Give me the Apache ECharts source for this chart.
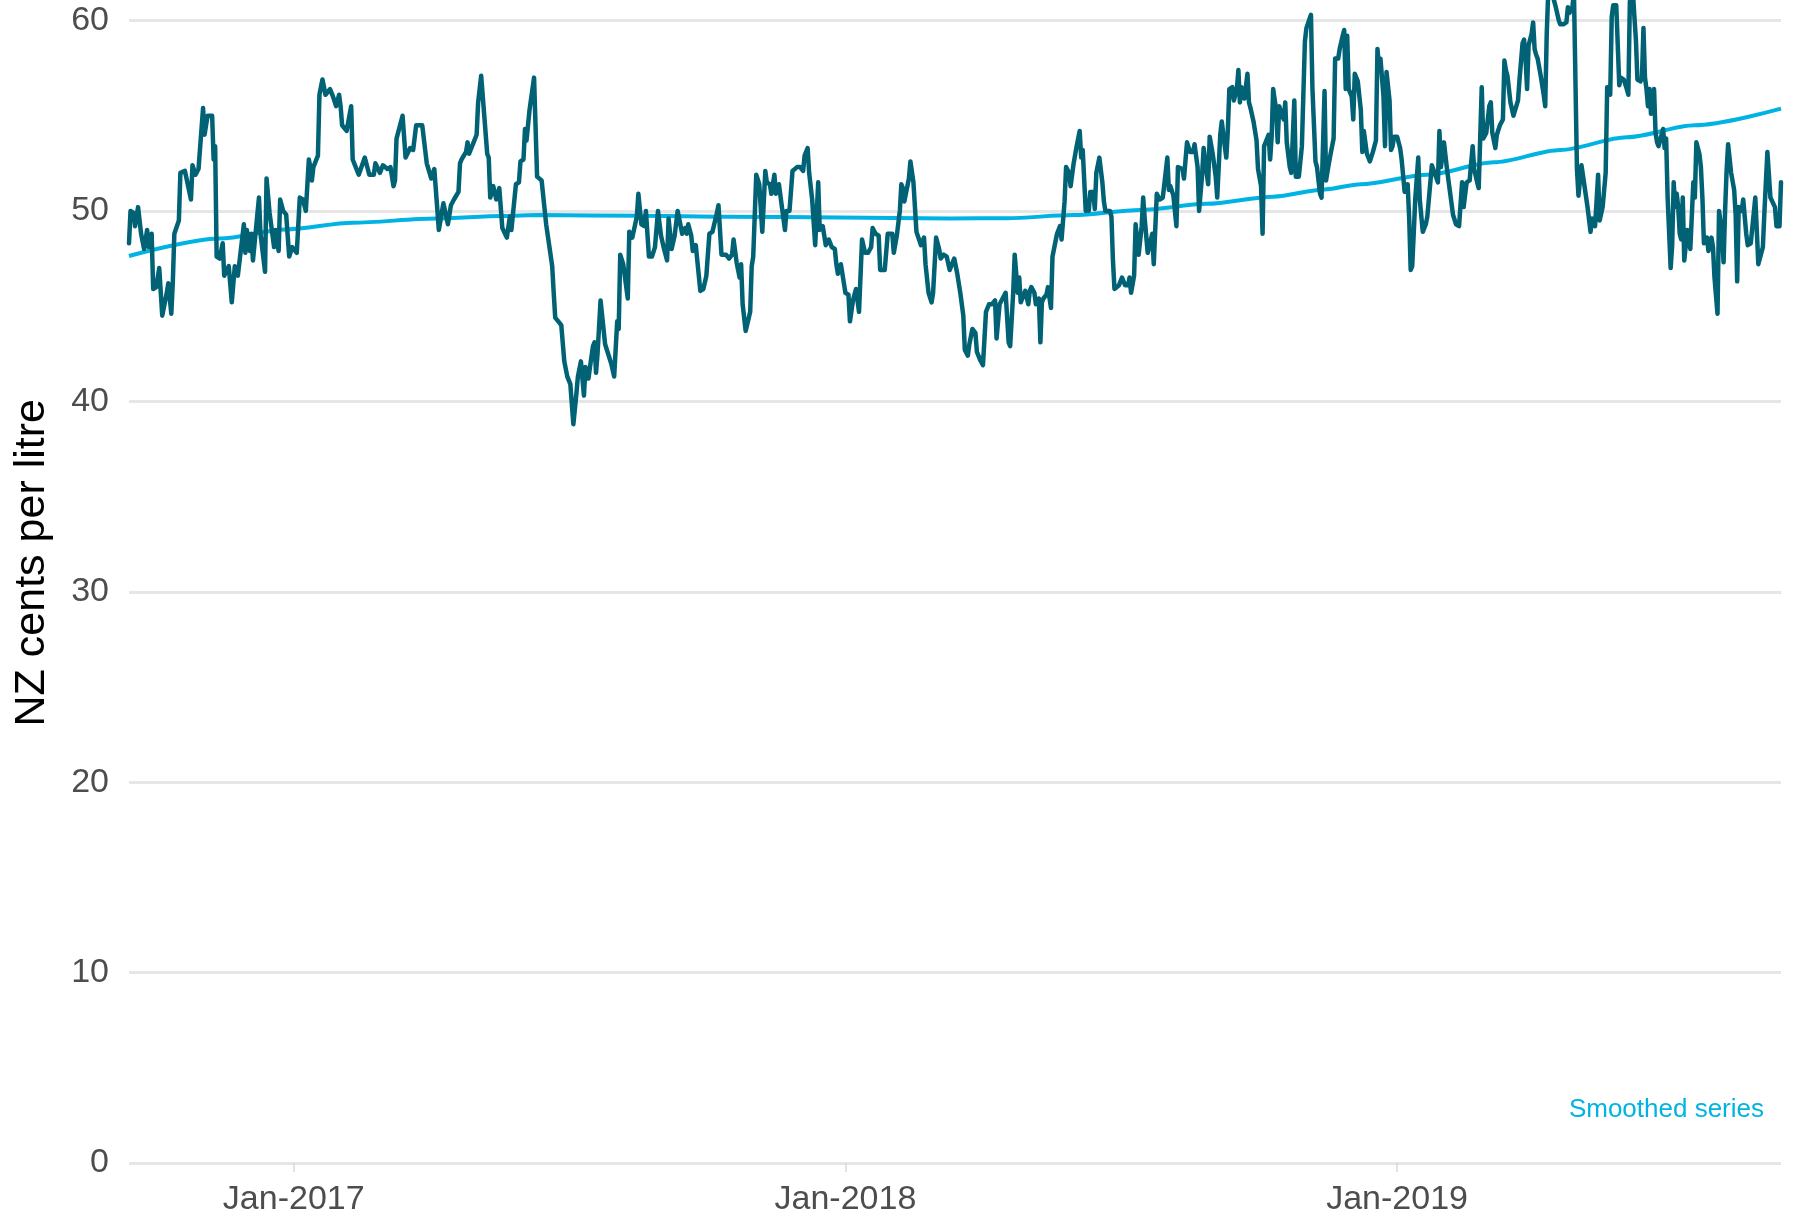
<!DOCTYPE html>
<html>
<head>
<meta charset="utf-8">
<title>Petrol margin</title>
<script src="https://cdn.jsdelivr.net/npm/echarts@6.0.0/dist/echarts.min.js"></script>
<style>
  html, body { margin: 0; padding: 0; background: #fff; }
  #main { width: 1799px; height: 1215px; }
</style>
</head>
<body>
<div id="main"></div>
<script>
// days are counted from 1 Jan 2017 (negative = late 2016)
const priceDays = [
  -109,-108,-106,-105,-103,-101,-99,-97,-96,-94,-93,-91,-89,-87,-86,-84,-83,-81,-80,-79,
  -76,-75,-72,-68,-67,-65,-63,-62,-60,-59,-57,-54,-53,-52,-51,-49,-47,-46,-43,-41,
  -39,-37,-33,-32,-31,-29,-28,-27,-23,-22,-19,-18,-16,-13,-12,-10,-9,-7,-5,-3,
  -1,2,4,6,8,10,11,12,13,16,17,19,21,24,26,28,30,31,32,35,
  38,39,41,43,47,50,53,54,57,59,62,64,66,67,68,72,74,77,79,81,
  85,88,91,93,96,99,102,104,106,109,110,111,114,115,116,119,121,122,124,128,
  129,130,132,134,136,138,141,143,144,147,149,150,152,153,154,156,159,
  161,164,167,171,172,173,177,179,181,183,185,187,188,190,192,193,195,196,198,199,
  200,201,203,206,207,210,212,214,215,216,218,221,222,224,225,227,228,230,232,233,
  235,237,239,241,243,245,247,248,250,252,254,255,257,259,260,261,263,264,266,269,
  271,273,275,277,280,281,283,286,288,290,291,293,295,296,297,298,299,302,303,304,
  306,308,310,312,313,315,316,318,319,321,323,325,326,328,330,333,335,337,338,340,
  341,343,345,347,348,350,352,354,356,358,359,360,362,365,367,368,370,372,374,376,
  378,380,382,383,385,387,388,391,392,393,396,397,399,401,402,403,404,407,408,410,
  412,413,415,417,418,420,422,423,425,427,428,430,432,434,
  437,439,441,443,444,446,447,449,451,452,454,456,458,460,462,464,465,467,469,471,
  473,474,476,477,479,480,481,482,484,485,486,487,488,490,491,493,494,495,496,498,
  499,501,502,503,505,507,508,510,511,513,514,516,518,520,521,522,524,525,526,527,
  529,530,531,533,535,536,537,540,541,542,543,546,547,548,550,552,553,554,556,557,
  559,561,562,563,565,566,568,569,570,571,573,575,578,579,580,582,584,585,586,588,
  589,591,593,595,596,598,599,601,602,604,605,606,608,610,611,613,614,616,617,618,
  619,621,622,624,625,626,627,629,631,632,633,635,637,638,640,641,642,643,645,646,
  647,648,650,651,652,654,655,656,657,659,660,662,663,665,667,669,670,673,674,676,
  677,679,680,682,683,684,686,688,689,691,692,694,695,696,697,698,700,701,702,704,706,
  707,708,710,712,714,716,717,718,719,721,722,723,725,726,727,728,730,732,733,735,
  737,738,739,740,741,742,744,745,747,749,750,751,753,754,757,758,759,761,763,764,
  765,767,769,771,773,774,775,776,778,780,781,783,784,786,787,789,791,792,793,795,
  796,798,800,801,802,803,805,807,808,810,811,813,814,815,816,817,819,820,821,822,
  823,825,827,828,829,830,833,835,837,838,840,842,843,844,846,847,848,849,850,852,
  854,856,858,859,861,862,863,864,866,868,869,870,871,872,873,875,876,877,878,880,
  882,883,884,886,887,888,889,891,892,893,894,895,896,897,898,900,901,902,903,904,
  906,907,908,909,911,912,913,914,915,916,917,918,919,920,922,923,924,926,927,928,
  930,931,932,933,935,936,938,939,940,942,943,944,945,946,947,948,949,951,953,954,
  955,956,958,959,960,961,962,964,966,967,969,970,972,973,975,977,978,980,981,983,984
];
const priceValues = [
  48.3,50.0,49.9,49.2,50.2,48.8,48.0,49.0,48.1,48.8,45.9,46.0,47.0,44.5,44.5,45.7,46.2,44.6,46.3,48.8,
  49.5,52.0,52.1,50.6,52.4,51.9,52.2,52.2,55.4,54.0,55.0,55.0,52.7,53.4,47.6,47.5,48.3,46.6,47.1,45.2,
  47.1,46.6,49.3,47.8,49.0,47.9,48.8,47.4,50.7,48.8,46.8,51.7,49.9,48.1,49.0,47.9,50.6,50.0,49.8,47.6,
  48.1,47.8,50.7,50.6,50.0,52.7,52.3,51.6,52.3,52.9,56.1,56.9,56.1,56.4,56.0,55.5,56.1,55.5,54.5,54.2,
  55.5,52.7,52.3,51.9,52.8,51.9,51.9,52.5,52.0,52.4,52.2,52.3,51.3,51.6,53.8,55.0,52.8,53.3,53.2,54.5,
  54.5,52.5,51.7,52.2,49.0,50.4,49.3,50.3,50.6,51.0,52.5,52.7,53.1,53.6,53.0,53.6,54.0,55.7,57.1,53.0,
  52.8,50.7,51.3,50.6,51.2,49.1,48.6,49.7,49.0,51.4,51.5,52.6,52.7,54.3,53.7,55.3,57.0,
  51.8,51.6,49.3,47.1,45.7,44.4,44.0,42.1,41.3,40.9,38.8,40.4,41.3,42.1,40.3,41.8,41.2,41.8,42.9,43.1,
  41.5,42.5,45.3,43.0,43.0,42.0,41.3,44.2,43.8,47.7,47.2,45.4,48.9,48.6,48.6,49.7,50.9,49.3,49.2,50.0,
  47.6,47.6,48.1,50.0,48.7,48.0,47.4,49.6,48.0,48.7,50.0,49.9,48.8,49.1,48.8,49.3,48.7,47.9,48.2,45.8,
  45.9,46.6,48.8,48.9,49.9,50.3,47.7,47.7,47.5,47.7,48.5,47.3,46.5,47.2,45.1,45.2,43.7,44.7,47.1,47.6,
  51.9,51.4,48.9,52.1,51.5,51.4,50.9,51.9,50.9,51.4,50.2,49.0,50.0,50.0,52.1,52.3,52.3,52.1,52.9,53.3,
  52.0,50.6,48.2,51.5,49.0,49.2,48.2,48.5,48.1,48.0,47.2,46.7,47.2,45.7,45.6,44.2,45.3,45.9,44.7,48.5,
  47.8,47.8,48.1,49.1,48.8,48.7,46.9,46.9,46.9,48.8,48.8,47.8,48.7,50.0,51.4,51.2,50.5,51.7,52.6,51.5,
  48.9,48.8,48.2,48.6,47.2,45.7,45.2,45.7,48.6,48.0,47.5,47.7,47.6,46.9,
  47.5,46.7,45.7,44.5,42.7,42.4,43.0,43.8,43.6,42.6,42.2,41.9,44.7,45.1,45.1,45.3,43.3,45.1,45.4,45.7,
  43.1,42.9,45.7,47.7,45.7,46.5,45.2,45.2,45.8,45.7,45.1,45.8,46.0,45.7,45.1,45.4,43.1,45.2,45.4,45.6,
  46.0,44.9,47.6,48.0,48.8,49.2,48.5,50.5,52.3,52.0,51.3,52.5,53.4,54.2,52.8,53.2,50.0,50.3,50.0,51.0,
  51.0,50.1,52.0,52.8,51.5,50.5,50.0,50.0,49.7,47.4,45.9,46.1,46.3,46.5,46.1,46.1,46.5,45.7,46.6,49.3,
  47.7,49.2,50.7,49.6,47.8,48.1,48.8,47.2,47.1,50.9,50.6,50.7,52.8,51.1,51.3,50.8,49.2,52.3,52.4,52.2,
  51.7,53.6,53.1,53.1,53.5,52.3,50.0,51.9,53.3,52.0,51.4,53.9,53.0,51.8,50.7,54.0,54.7,53.4,52.8,54.2,
  56.4,56.5,55.8,56.4,57.4,55.7,56.5,55.9,57.2,55.7,55.4,54.7,53.7,52.2,51.3,48.8,53.4,53.6,54.0,52.7,
  53.9,56.4,55.3,53.6,55.5,55.0,54.8,55.7,53.6,52.3,52.0,55.8,51.8,51.8,53.4,58.9,59.6,60.3,56.4,52.6,
  52.3,50.9,50.7,56.3,51.6,52.1,53.0,53.8,58.0,58.0,58.5,59.2,59.5,56.4,59.2,56.4,56.0,54.8,57.2,56.8,55.3,
  53.1,54.2,53.0,52.6,53.1,53.7,58.5,57.6,58.0,56.0,53.4,57.3,55.8,53.2,53.4,53.9,53.9,53.3,52.7,51.0,
  51.4,49.6,46.9,47.1,48.8,50.6,52.8,50.6,48.9,49.3,49.7,49.8,52.4,52.5,51.5,54.2,52.3,53.6,52.2,51.6,
  51.5,49.8,49.3,49.2,51.5,50.2,50.3,51.5,51.6,53.4,52.2,51.5,51.2,56.5,53.8,54.1,55.5,55.7,54.1,53.3,
  54.0,54.5,54.8,57.9,57.4,57.1,55.7,55.0,54.9,55.8,56.9,58.8,59.0,58.0,56.4,58.7,59.3,59.9,58.5,58.2,
  58.0,57.1,56.1,55.5,59.3,61.5,61.3,60.7,60.0,59.8,59.8,59.9,60.7,60.4,60.7,61.5,61.5,52.2,50.8,52.4,
  51.3,50.2,48.9,49.6,49.2,49.1,51.9,49.5,50.2,52.0,56.5,56.6,56.1,60.2,60.8,60.8,60.7,56.6,57.0,56.9,
  56.4,56.1,61.0,61.5,60.2,59.0,56.9,56.8,57.0,59.6,57.0,56.4,55.5,56.4,55.1,56.4,54.1,53.6,53.4,53.3,
  54.3,53.3,53.8,50.7,47.0,48.2,51.5,50.2,50.9,50.2,48.8,48.5,50.7,47.4,49.0,49.0,48.0,51.5,50.7,53.6,
  53.0,52.3,50.7,48.3,48.6,47.9,48.6,48.1,46.5,44.6,50.0,50.0,48.8,47.3,50.0,52.1,53.5,52.0,51.1,49.8,
  46.3,50.2,50.0,50.6,50.7,48.8,48.2,48.3,49.9,50.7,47.2,47.3,48.1,49.9,53.1,50.7,50.8,50.2,49.2,49.2,51.5
];

const smoothDays = [-109, -49, -5, 39, 94, 138, 163, 230, 288, 360, 434, 472, 516, 560, 604, 648, 682, 706, 750, 794, 838, 882, 927, 984];
const smoothValues = [47.63, 48.55, 49.03, 49.38, 49.6, 49.73, 49.78, 49.75, 49.7, 49.65, 49.6, 49.62, 49.78, 50.05, 50.37, 50.75, 51.13, 51.4, 51.9, 52.55, 53.2, 53.87, 54.5, 55.37];

const xTickDates = ['2017-01-01', '2018-01-01', '2019-01-01'];
const xTickLabels = ['Jan-2017', 'Jan-2018', 'Jan-2019'];

const darkTeal = '#006274';
const lightBlue = '#00b3e2';
const fontFamily = "'Liberation Sans', Arial, sans-serif";

function dayToTime(d) {
  return new Date(2017, 0, 1 + d).getTime();
}
function isoToTime(s) {
  const p = s.split('-').map(Number);
  return new Date(p[0], p[1] - 1, p[2]).getTime();
}

const priceData = priceDays.map((d, i) => [dayToTime(d), priceValues[i]]);
const smoothData = smoothDays.map((d, i) => [dayToTime(d), smoothValues[i]]);
const tickTimes = xTickDates.map(isoToTime);

const chart = echarts.init(document.getElementById('main'));
const option = {
  animation: false,
  backgroundColor: '#ffffff',
  textStyle: { fontFamily: fontFamily },
  grid: {
    left: 129,
    right: 18,
    top: 20.5,
    bottom: 52,
    containLabel: false,
    outerBoundsMode: 'none'
  },
  xAxis: {
    // timestamps on a value axis so the year ticks can be placed exactly
    type: 'value',
    min: dayToTime(priceDays[0]),
    max: dayToTime(priceDays[priceDays.length - 1]),
    axisLine: { show: false },
    splitLine: { show: false },
    axisTick: {
      show: true,
      customValues: tickTimes,
      length: 9,
      lineStyle: { color: '#d9d9d9', width: 1.5 }
    },
    axisLabel: {
      customValues: tickTimes,
      formatter: function (val) {
        const i = tickTimes.indexOf(val);
        return i >= 0 ? xTickLabels[i] : '';
      },
      color: '#4d4d4d',
      fontSize: 34,
      fontFamily: fontFamily,
      margin: 20,
      hideOverlap: false
    }
  },
  yAxis: {
    type: 'value',
    min: 0,
    max: 60,
    interval: 10,
    name: 'NZ cents per litre',
    nameLocation: 'middle',
    nameRotate: 90,
    nameGap: 75,
    nameTextStyle: {
      color: '#000000',
      fontSize: 43,
      fontFamily: fontFamily,
      padding: [0, 0, 0, 58]
    },
    axisLine: { show: false },
    axisTick: { show: false },
    axisLabel: { color: '#4d4d4d', fontSize: 34, fontFamily: fontFamily, margin: 20 },
    splitLine: { show: true, lineStyle: { color: '#e6e6e6', width: 3 } }
  },
  series: [
    {
      name: 'Smoothed series',
      type: 'line',
      data: smoothData,
      showSymbol: false,
      symbol: 'none',
      smooth: 0.3,
      smoothMonotone: 'x',
      itemStyle: { color: lightBlue },
      lineStyle: { color: lightBlue, width: 4 },
      z: 2
    },
    {
      name: 'Margin',
      type: 'line',
      data: priceData,
      showSymbol: false,
      symbol: 'none',
      clip: false,
      itemStyle: { color: darkTeal },
      lineStyle: { color: darkTeal, width: 4.5, join: 'round', cap: 'round' },
      z: 3
    }
  ],
  graphic: [
    {
      type: 'text',
      right: 35,
      top: 1097,
      style: {
        text: 'Smoothed series',
        fill: lightBlue,
        fontSize: 26,
        fontFamily: fontFamily
      }
    }
  ]
};
chart.setOption(option);
</script>
</body>
</html>
